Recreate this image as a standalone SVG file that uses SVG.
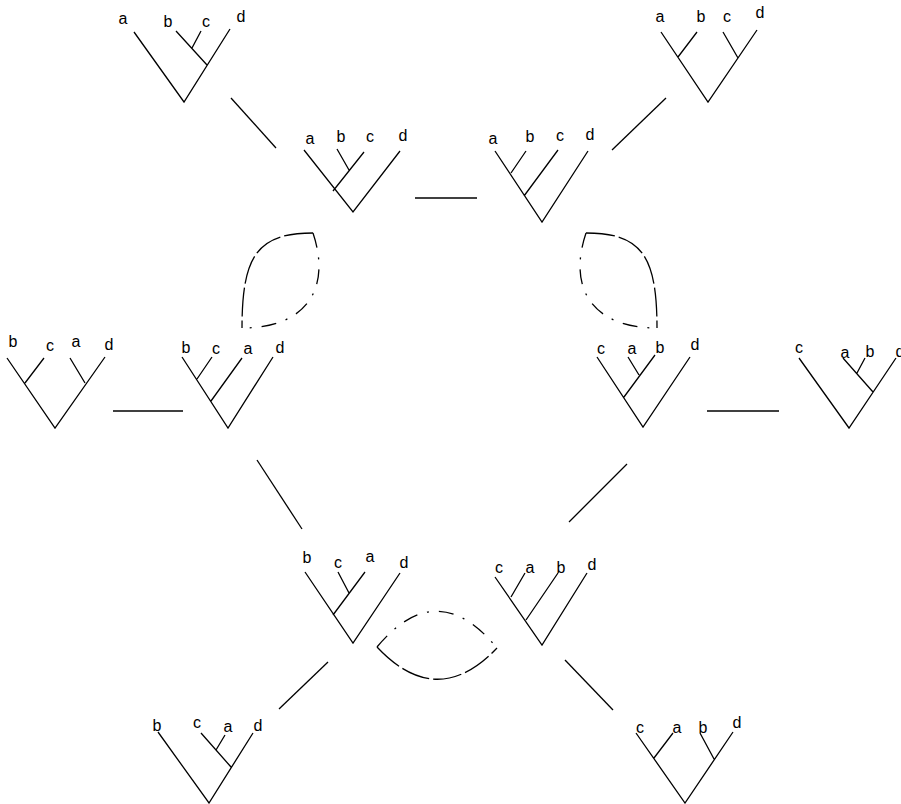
<svg xmlns="http://www.w3.org/2000/svg" width="901" height="804" viewBox="0 0 901 804" font-family="'Liberation Sans', Arial, sans-serif" font-size="16" text-anchor="middle">
<style>
.t{fill:none;stroke:#000;stroke-width:1.3;stroke-linecap:butt;stroke-linejoin:miter}
.c{stroke:#000;stroke-width:1.3}
.ld{fill:none;stroke:#000;stroke-width:1.3;stroke-dasharray:29,4}
.dd{fill:none;stroke:#000;stroke-width:1.3;stroke-dasharray:15,10,2,10}
.l{font-family:"Liberation Sans",Arial,sans-serif;font-size:16px;fill:#000;text-anchor:middle}
</style>
<rect width="901" height="804" fill="#fff"/>
<g id="connectors">
<line class="c" x1="231" y1="98" x2="276" y2="148"/>
<line class="c" x1="415" y1="198" x2="477" y2="198"/>
<line class="c" x1="612" y1="150" x2="666" y2="98"/>
<line class="c" x1="113" y1="411" x2="183" y2="411"/>
<line class="c" x1="707" y1="411" x2="779" y2="411"/>
<line class="c" x1="257" y1="460" x2="302" y2="529"/>
<line class="c" x1="627" y1="464" x2="569" y2="522"/>
<line class="c" x1="328" y1="662" x2="279" y2="709"/>
<line class="c" x1="565" y1="660" x2="613" y2="710"/>
<path class="ld" d="M313,233 C258,233 242,255 242,328"/>
<path class="dd" d="M313,233 C332,290 305,328 242,328"/>
<path class="ld" d="M586,233 C641,233 657,255 657,328"/>
<path class="dd" d="M586,233 C567,290 594,328 657,328"/>
<path class="ld" d="M377,647 Q437,711 497,648"/>
<path class="dd" d="M377,647 Q437,575 497,648"/>
</g>
<g id="tree1" class="l">
<path class="t" d="M134,32 L184,102 L230,29 M207,65 L176,31 M192,48 L201,31"/>
<text x="123" y="24">a</text><text x="168" y="27">b</text><text x="206" y="27">c</text><text x="241" y="22">d</text>
</g>
<g id="tree2" class="l">
<path class="t" d="M304,150 L353,212 L400,151 M333,191 L364,152 M349,170 L337,149"/>
<text x="310" y="144">a</text><text x="341" y="142">b</text><text x="370" y="142">c</text><text x="403" y="141">d</text>
</g>
<g id="tree3" class="l">
<path class="t" d="M495,151 L542,222 L588,151 M511,173 L526,151 M524,196 L558,150"/>
<text x="493" y="144">a</text><text x="530" y="142">b</text><text x="560" y="141">c</text><text x="590" y="140">d</text>
</g>
<g id="tree4" class="l">
<path class="t" d="M661,32 L708,102 L757,30 M678,57 L697,32 M738,58 L723,32"/>
<text x="660" y="22">a</text><text x="701" y="22">b</text><text x="727" y="22">c</text><text x="760" y="18">d</text>
</g>
<g id="tree5" class="l">
<path class="t" d="M7,358 L55,428 L105,357 M25,383 L44,358 M85,383 L70,358"/>
<text x="13" y="347">b</text><text x="50" y="351">c</text><text x="76" y="347">a</text><text x="109" y="350">d</text>
</g>
<g id="tree6" class="l">
<path class="t" d="M182,357 L228,428 L273,357 M197,379 L212,357 M211,401 L242,358"/>
<text x="186" y="353">b</text><text x="216" y="354">c</text><text x="248" y="354">a</text><text x="280" y="353">d</text>
</g>
<g id="tree7" class="l">
<path class="t" d="M597,357 L643,427 L690,357 M624,397 L655,355 M639,375 L628,357"/>
<text x="601" y="354">c</text><text x="632" y="354">a</text><text x="660" y="353">b</text><text x="695" y="350">d</text>
</g>
<g id="tree8" class="l">
<path class="t" d="M799,358 L849,428 L896,358 M873,392 L843,358 M857,373 L865,358"/>
<text x="799" y="353">c</text><text x="845" y="358">a</text><text x="870" y="357">b</text><text x="900" y="357">d</text>
</g>
<g id="tree9" class="l">
<path class="t" d="M305,572 L353,643 L400,573 M333,615 L365,572 M349,593 L338,572"/>
<text x="307" y="563">b</text><text x="338" y="568">c</text><text x="370" y="562">a</text><text x="404" y="568">d</text>
</g>
<g id="tree10" class="l">
<path class="t" d="M495,577 L542,645 L587,573 M511,597 L525,573 M526,620 L558,573"/>
<text x="499" y="573">c</text><text x="530" y="573">a</text><text x="561" y="573">b</text><text x="592" y="570">d</text>
</g>
<g id="tree11" class="l">
<path class="t" d="M158,732 L209,803 L253,733 M231,767 L201,733 M216,750 L225,735"/>
<text x="157" y="731">b</text><text x="197" y="728">c</text><text x="228" y="732">a</text><text x="258" y="731">d</text>
</g>
<g id="tree12" class="l">
<path class="t" d="M636,733 L685,803 L733,732 M654,758 L673,733 M714,759 L700,733"/>
<text x="640" y="733">c</text><text x="677" y="733">a</text><text x="703" y="733">b</text><text x="737" y="728">d</text>
</g>
</svg>
